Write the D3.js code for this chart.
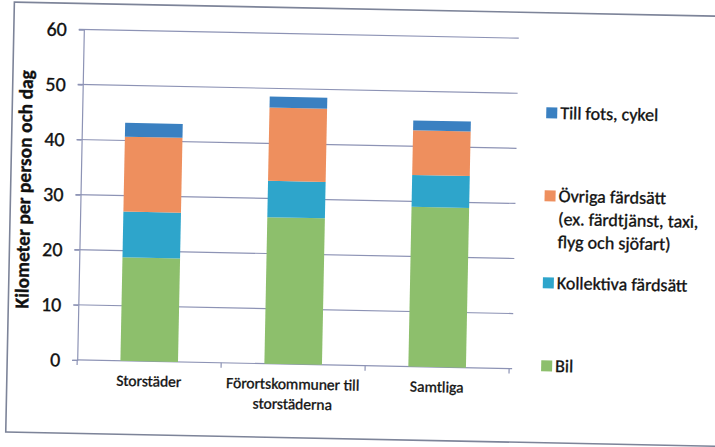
<!DOCTYPE html>
<html><head><meta charset="utf-8">
<script src="https://cdn.jsdelivr.net/npm/d3@7"></script>
<style>
html,body{margin:0;padding:0;background:#fff;}
svg{display:block;}
text{font-family:Carlito, Lato, "Open Sans", sans-serif;fill:#111;stroke:#111;stroke-width:0.35px;}
</style></head>
<body>
<svg id="chart" width="715" height="447"></svg>
<script>
const categories = ["Storstäder", "Förortskommuner till storstäderna", "Samtliga"];
const categoryLines = [["Storstäder"], ["Förortskommuner till", "storstäderna"], ["Samtliga"]];
const seriesNames = ["Bil", "Kollektiva färdsätt", "Övriga färdsätt", "Till fots, cykel"];
const bil = [18.8, 26.6, 29.0];
const kollektiva = [8.3, 6.6, 5.8];
const ovriga = [13.6, 13.3, 8.1];
const tillFots = [2.5, 2.0, 1.8];
const yTicks = [0, 10, 20, 30, 40, 50, 60];
const legendLabels = [
  ["Till fots, cykel"],
  ["Övriga färdsätt", "(ex. färdtjänst, taxi,", "flyg och sjöfart)"],
  ["Kollektiva färdsätt"],
  ["Bil"]
];
const legendKeys = ["Till fots, cykel", "Övriga färdsätt", "Kollektiva färdsätt", "Bil"];
const colors = {"Bil":"#8dbf6c","Kollektiva färdsätt":"#2ea5cb","Övriga färdsätt":"#ee8f5e","Till fots, cykel":"#3a80c1"};
const yTitle = "Kilometer per person och dag";

const svg = d3.select("#chart");
const root = svg.append("g").attr("transform","rotate(1.15,357.5,223.5)");

// outer frame
root.append("rect").attr("x",10).attr("y",9).attr("width",730).attr("height",430)
  .attr("fill","none").attr("stroke","#7d8499").attr("stroke-width",1.6);

const plot = {left:80, right:512, top:35, bottom:365.5};
const x = d3.scaleBand().domain(categories).range([plot.left, plot.right]).paddingInner(0.6).paddingOuter(0.3);
const xOuter = d3.scaleBand().domain(categories).range([plot.left, plot.right]);
const y = d3.scaleLinear().domain([0,60]).range([plot.bottom, plot.top]);

const gridColor = "#8d93b5";
// gridlines
root.append("g").selectAll("line").data(yTicks.filter(d=>d>0)).join("line")
  .attr("x1",plot.left-5).attr("x2",plot.right+3)
  .attr("y1",d=>y(d)).attr("y2",d=>y(d))
  .attr("stroke",gridColor).attr("stroke-width",1.2);

// y axis
const yAxis = d3.axisLeft(y).tickValues(yTicks).tickSize(5).tickPadding(12);
const gy = root.append("g").attr("transform",`translate(${plot.left},0)`).call(yAxis);
gy.select(".domain").attr("stroke",gridColor).attr("stroke-width",1.2);
gy.selectAll(".tick line").attr("stroke",gridColor).attr("stroke-width",1.2);
gy.selectAll(".tick text").attr("font-size",20).attr("fill","#111").style("font-family","Carlito, Lato, sans-serif");

// x axis
const xAxis = d3.axisBottom(xOuter).tickSize(0).tickFormat("");
const gx = root.append("g").attr("transform",`translate(0,${plot.bottom})`).call(xAxis);
gx.select(".domain").attr("stroke",gridColor).attr("stroke-width",1.2).attr("d",`M${plot.left},0H${plot.right+3}`);
const bounds = [plot.left].concat(categories.map(c=>xOuter(c)+xOuter.bandwidth()));
gx.append("g").selectAll("line").data(bounds).join("line")
  .attr("x1",d=>d).attr("x2",d=>d).attr("y1",0).attr("y2",5)
  .attr("stroke",gridColor).attr("stroke-width",1.2);

// x labels
const xl = root.append("g");
categories.forEach((c,i)=>{
  const t = xl.append("text").attr("x",x(c)+x.bandwidth()/2).attr("y",plot.bottom+25)
    .attr("text-anchor","middle").attr("font-size",15.5);
  categoryLines[i].forEach((ln,j)=>{
    t.append("tspan").attr("x",x(c)+x.bandwidth()/2).attr("dy",j===0?0:20).text(ln);
  });
});

// stacked bars
const rows = categories.map((c,i)=>({cat:c,"Bil":bil[i],"Kollektiva färdsätt":kollektiva[i],"Övriga färdsätt":ovriga[i],"Till fots, cykel":tillFots[i]}));
const stack = d3.stack().keys(seriesNames)(rows);
root.append("g").selectAll("g").data(stack).join("g")
  .attr("fill",d=>colors[d.key])
  .selectAll("rect").data(d=>d).join("rect")
  .attr("x",d=>x(d.data.cat)).attr("width",x.bandwidth())
  .attr("y",d=>y(d[1])).attr("height",d=>y(d[0])-y(d[1]));

// y title
root.append("text").attr("transform","translate(30,196) rotate(-90)")
  .attr("text-anchor","middle").attr("font-size",19.5).attr("font-weight","bold").text(yTitle);

// legend
const legY = [109, 192, 279, 362];
const lg = root.append("g");
legendKeys.forEach((k,i)=>{
  lg.append("rect").attr("x",544).attr("y",legY[i]-5.5).attr("width",11).attr("height",11).attr("fill",colors[k]);
  const t = lg.append("text").attr("x",558).attr("y",legY[i]+6).attr("font-size",18);
  legendLabels[i].forEach((ln,j)=>{
    t.append("tspan").attr("x",558).attr("dy",j===0?0:23).text(ln);
  });
});
</script>
</body></html>
